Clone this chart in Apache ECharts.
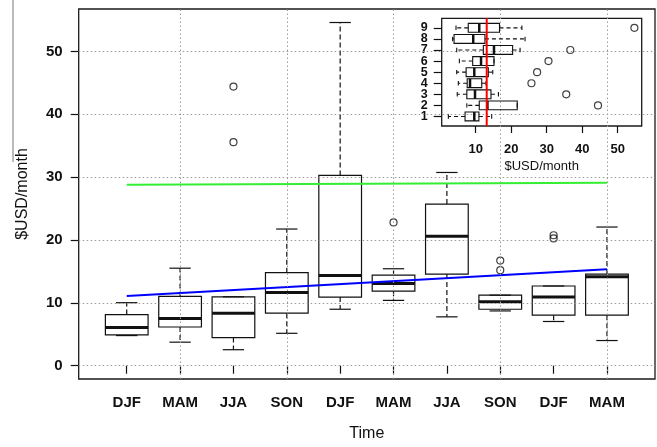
<!DOCTYPE html>
<html>
<head>
<meta charset="utf-8">
<script src="https://cdn.jsdelivr.net/npm/echarts@6/dist/echarts.min.js"></script>
<style>html,body{margin:0;padding:0;background:#fff;}#chart{width:657px;height:447px;}</style>
</head>
<body>
<div id="chart"></div>
<script>
// ---- main chart data ----
const seasons = ['DJF','MAM','JJA','SON','DJF','MAM','JJA','SON','DJF','MAM'];
const boxMin    = [4.79, 3.74, 2.54, 5.15, 8.98, 10.39, 7.77, 8.71, 7.03, 4.0];
const boxQ1     = [4.90, 6.15, 4.47, 8.35, 10.91, 11.85, 14.57, 8.98, 8.04, 8.04];
const boxMedian = [6.09, 7.50, 8.35, 11.65, 14.36, 13.06, 20.6, 10.17, 10.91, 14.16];
const boxQ3     = [8.13, 11.02, 10.96, 14.79, 30.27, 14.41, 25.71, 11.22, 12.68, 14.57];
const boxMax    = [10.02, 15.51, 10.96, 21.74, 54.6, 15.42, 30.74, 11.22, 12.68, 22.06];
const outlierPos = [3, 3, 6, 8, 8, 9, 9];
const outlierVal = [44.4, 35.56, 22.79, 16.72, 15.2, 20.25, 20.75];
const trendX     = [1, 10];
const trendBlue  = [11.07, 15.35];
const trendGreen = [28.8, 29.1];
const yTicks = [0, 10, 20, 30, 40, 50];
const xGridLines = [2, 4, 6, 8, 10];

// ---- inset data ----
const insetRows = [1, 2, 3, 4, 5, 6, 7, 8, 9];
const insetMin    = [2.3, 7.5, 4.8, 5.1, 4.65, 5.4, 4.65, 3.5, 4.45];
const insetQ1     = [7.0, 11.0, 7.5, 7.6, 7.3, 9.15, 12.15, 3.9, 7.9];
const insetMedian = [9.6, 13.3, 9.8, 8.4, 9.6, 11.5, 15.15, 9.3, 11.0];
const insetQ3     = [10.9, 21.7, 14.3, 11.7, 13.55, 15.15, 20.4, 12.6, 16.7];
const insetMax    = [14.5, 21.7, 16.4, 12.9, 14.8, 15.15, 22.5, 23.9, 23.0];
const insetOutRow = [2, 3, 4, 5, 6, 7, 9];
const insetOutVal = [44.45, 35.5, 25.7, 27.3, 30.5, 36.65, 54.7];
const insetXTicks = [10, 20, 30, 40, 50];
const insetRefValue = 13.1;

const FONT = 'Liberation Sans, Arial, Helvetica, sans-serif';
const INK = '#111';

const mainBoxes = seasons.map((s, i) => [i + 1, boxMin[i], boxQ1[i], boxMedian[i], boxQ3[i], boxMax[i]]);
const insetBoxes = insetRows.map((r, i) => [r, insetMin[i], insetQ1[i], insetMedian[i], insetQ3[i], insetMax[i]]);
const insetRowsOdd = insetRows.filter(r => r % 2 === 1);
const insetRowsEven = insetRows.filter(r => r % 2 === 0);

function makeBox(horizontal, boxLW, medLW, dash) {
  return function (params, api) {
    const pos = api.value(0);
    const mn = api.value(1), q1 = api.value(2), md = api.value(3), q3 = api.value(4), mx = api.value(5);
    const P = (p, v) => horizontal ? api.coord([v, p]) : api.coord([p, v]);
    const hw = 0.4, cw = 0.2;
    const line = (a, b, w, d) => ({
      type: 'line',
      shape: { x1: a[0], y1: a[1], x2: b[0], y2: b[1] },
      style: { stroke: INK, lineWidth: w, lineDash: d || null, fill: null }
    });
    const b1 = P(pos - hw, q1), b2 = P(pos + hw, q3);
    const rect = {
      type: 'rect',
      shape: { x: Math.min(b1[0], b2[0]), y: Math.min(b1[1], b2[1]), width: Math.abs(b2[0] - b1[0]), height: Math.abs(b2[1] - b1[1]) },
      style: { fill: 'none', stroke: INK, lineWidth: boxLW }
    };
    return {
      type: 'group',
      children: [
        line(P(pos, q3), P(pos, mx), boxLW, dash),
        line(P(pos, q1), P(pos, mn), boxLW, dash),
        line(P(pos - cw, mx), P(pos + cw, mx), boxLW),
        line(P(pos - cw, mn), P(pos + cw, mn), boxLW),
        rect,
        line(P(pos - hw, md), P(pos + hw, md), medLW)
      ]
    };
  };
}

function insetYAxis(vals) {
  return {
    type: 'value', gridIndex: 1, min: 0.14, max: 9.86, position: 'left', offset: 0,
    axisLine: { show: false },
    axisTick: { show: true, customValues: vals, length: 8, lineStyle: { color: INK, width: 1.2 } },
    axisLabel: { customValues: vals, margin: 14, fontSize: 12.5, fontWeight: 'bold', color: INK, fontFamily: FONT, showMinLabel: true, showMaxLabel: true, hideOverlap: false },
    splitLine: { show: false }
  };
}

const chart = echarts.init(document.getElementById('chart'), null, { renderer: 'canvas' });
const option = {
  animation: false,
  backgroundColor: '#fff',
  textStyle: { fontFamily: FONT, color: INK },
  graphic: [{
    type: 'line', shape: { x1: 13, y1: 0, x2: 13, y2: 162 },
    style: { stroke: '#777', lineWidth: 1 }, silent: true
  }],
  grid: [
    { left: 78.7, top: 9, width: 576.3, height: 375, show: true, borderColor: '#1a1a1a', borderWidth: 1.3, backgroundColor: 'transparent' },
    { left: 441.7, top: 18.3, width: 200, height: 107.7, show: true, borderColor: '#1a1a1a', borderWidth: 1.3, backgroundColor: 'transparent' }
  ],
  xAxis: [
    {
      type: 'value', gridIndex: 0, min: 0.1, max: 10.9,
      axisLine: { show: false },
      axisTick: { show: true, customValues: seasons.map((s, i) => i + 1), length: 8, lineStyle: { color: INK, width: 1.2 } },
      axisLabel: { customValues: seasons.map((s, i) => i + 1), formatter: v => seasons[Math.round(v) - 1], margin: 16, fontSize: 15, fontWeight: 'bold', color: INK, fontFamily: FONT, showMinLabel: true, showMaxLabel: true, hideOverlap: false },
      splitLine: { show: false },
      name: 'Time', nameLocation: 'middle', nameGap: 47,
      nameTextStyle: { fontSize: 16, color: INK, fontFamily: FONT }
    },
    {
      type: 'value', gridIndex: 1, min: 0.42, max: 56.76,
      axisLine: { show: false },
      axisTick: { show: true, customValues: insetXTicks, length: 7, lineStyle: { color: INK, width: 1.2 } },
      axisLabel: { customValues: insetXTicks, margin: 17, fontSize: 13, fontWeight: 'bold', color: INK, fontFamily: FONT, showMinLabel: true, showMaxLabel: true, hideOverlap: false },
      splitLine: { show: false },
      name: '$USD/month', nameLocation: 'middle', nameGap: 34,
      nameTextStyle: { fontSize: 13, color: INK, fontFamily: FONT }
    }
  ],
  yAxis: [
    {
      type: 'value', gridIndex: 0, min: -2.12, max: 56.75,
      axisLine: { show: false },
      axisTick: { show: true, customValues: yTicks, length: 8, lineStyle: { color: INK, width: 1.2 } },
      axisLabel: { customValues: yTicks, margin: 16, fontSize: 15, fontWeight: 'bold', color: INK, fontFamily: FONT, showMinLabel: true, showMaxLabel: true, hideOverlap: false },
      splitLine: { show: false },
      name: '$USD/month', nameLocation: 'middle', nameGap: 48, nameRotate: 90,
      nameTextStyle: { fontSize: 16, color: INK, fontFamily: FONT }
    },
    insetYAxis(insetRowsOdd),
    insetYAxis(insetRowsEven)
  ],
  series: [
    {
      type: 'line', xAxisIndex: 0, yAxisIndex: 0, data: [], silent: true, z: 1,
      markLine: {
        silent: true, symbol: ['none', 'none'], label: { show: false },
        lineStyle: { type: [1.5, 2.5], color: '#9a9a9a', width: 1 },
        emphasis: { disabled: true },
        data: xGridLines.map(v => ({ xAxis: v })).concat(yTicks.map(v => ({ yAxis: v })))
      }
    },
    {
      type: 'custom', xAxisIndex: 0, yAxisIndex: 0, z: 3,
      renderItem: makeBox(false, 1.2, 3, [5, 3]),
      encode: { x: 0, y: [1, 2, 3, 4, 5] },
      data: mainBoxes
    },
    {
      type: 'scatter', xAxisIndex: 0, yAxisIndex: 0, z: 3,
      symbol: 'circle', symbolSize: 7,
      itemStyle: { color: 'rgba(0,0,0,0)', borderColor: INK, borderWidth: 1.2 },
      data: outlierPos.map((p, i) => [p, outlierVal[i]])
    },
    {
      type: 'line', xAxisIndex: 0, yAxisIndex: 0, z: 4, showSymbol: false,
      lineStyle: { color: '#33ee33', width: 2 },
      data: trendX.map((x, i) => [x, trendGreen[i]])
    },
    {
      type: 'line', xAxisIndex: 0, yAxisIndex: 0, z: 4, showSymbol: false,
      lineStyle: { color: '#0000ff', width: 2 },
      data: trendX.map((x, i) => [x, trendBlue[i]])
    },
    {
      type: 'custom', xAxisIndex: 1, yAxisIndex: 1, z: 5,
      renderItem: makeBox(true, 1.1, 2.5, [4, 3]),
      encode: { x: [1, 2, 3, 4, 5], y: 0 },
      data: insetBoxes
    },
    {
      type: 'scatter', xAxisIndex: 1, yAxisIndex: 1, z: 5,
      symbol: 'circle', symbolSize: 7,
      itemStyle: { color: 'rgba(0,0,0,0)', borderColor: INK, borderWidth: 1.2 },
      data: insetOutVal.map((v, i) => [v, insetOutRow[i]])
    },
    {
      type: 'line', xAxisIndex: 1, yAxisIndex: 1, z: 6, showSymbol: false,
      lineStyle: { color: '#ff0000', width: 2 },
      data: [[insetRefValue, 0.14], [insetRefValue, 9.86]]
    }
  ]
};
chart.setOption(option);
</script>
</body>
</html>
